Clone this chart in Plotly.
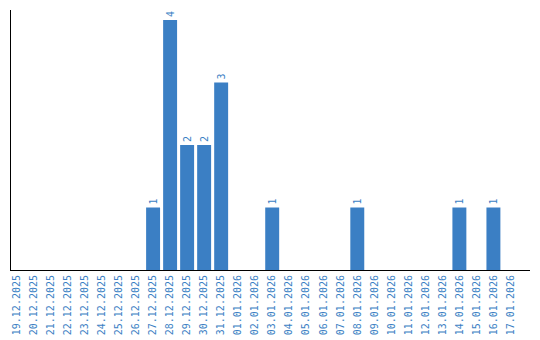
import plotly.graph_objects as go

dates = ["19.12.2025", "20.12.2025", "21.12.2025", "22.12.2025", "23.12.2025",
         "24.12.2025", "25.12.2025", "26.12.2025", "27.12.2025", "28.12.2025",
         "29.12.2025", "30.12.2025", "31.12.2025", "01.01.2026", "02.01.2026",
         "03.01.2026", "04.01.2026", "05.01.2026", "06.01.2026", "07.01.2026",
         "08.01.2026", "09.01.2026", "10.01.2026", "11.01.2026", "12.01.2026",
         "13.01.2026", "14.01.2026", "15.01.2026", "16.01.2026", "17.01.2026"]
counts = [0, 0, 0, 0, 0, 0, 0, 0, 1, 4, 2, 2, 3, 0, 0, 1, 0, 0, 0, 0,
          1, 0, 0, 0, 0, 0, 1, 0, 1, 0]

blue = "#3b7fc4"
labels = [str(c) if c > 0 else "" for c in counts]

fig = go.Figure(go.Bar(
    x=dates, y=counts, marker_color=blue, marker_line_width=0,
    text=labels, textposition="outside", textangle=-90,
    textfont=dict(color=blue, size=10, family="DejaVu Sans Mono"),
    cliponaxis=False, width=0.82,
))
fig.update_layout(
    width=540, height=340, margin=dict(l=11, r=10, t=10, b=70, autoexpand=False),
    paper_bgcolor="white", plot_bgcolor="white", showlegend=False,
    bargap=0.18,
)
fig.update_xaxes(
    type="category", range=[-0.35, 30.15], showgrid=False, automargin=False,
    showline=True, linecolor="black", linewidth=1,
    tickangle=-90, ticks="", ticklen=0,
    tickfont=dict(color=blue, size=10, family="DejaVu Sans Mono"),
)
fig.update_yaxes(
    range=[0, 4.16], showgrid=False, zeroline=False, showticklabels=False,
    showline=True, linecolor="black", linewidth=1, ticks="", automargin=False,
)
fig.write_html("out.html")
